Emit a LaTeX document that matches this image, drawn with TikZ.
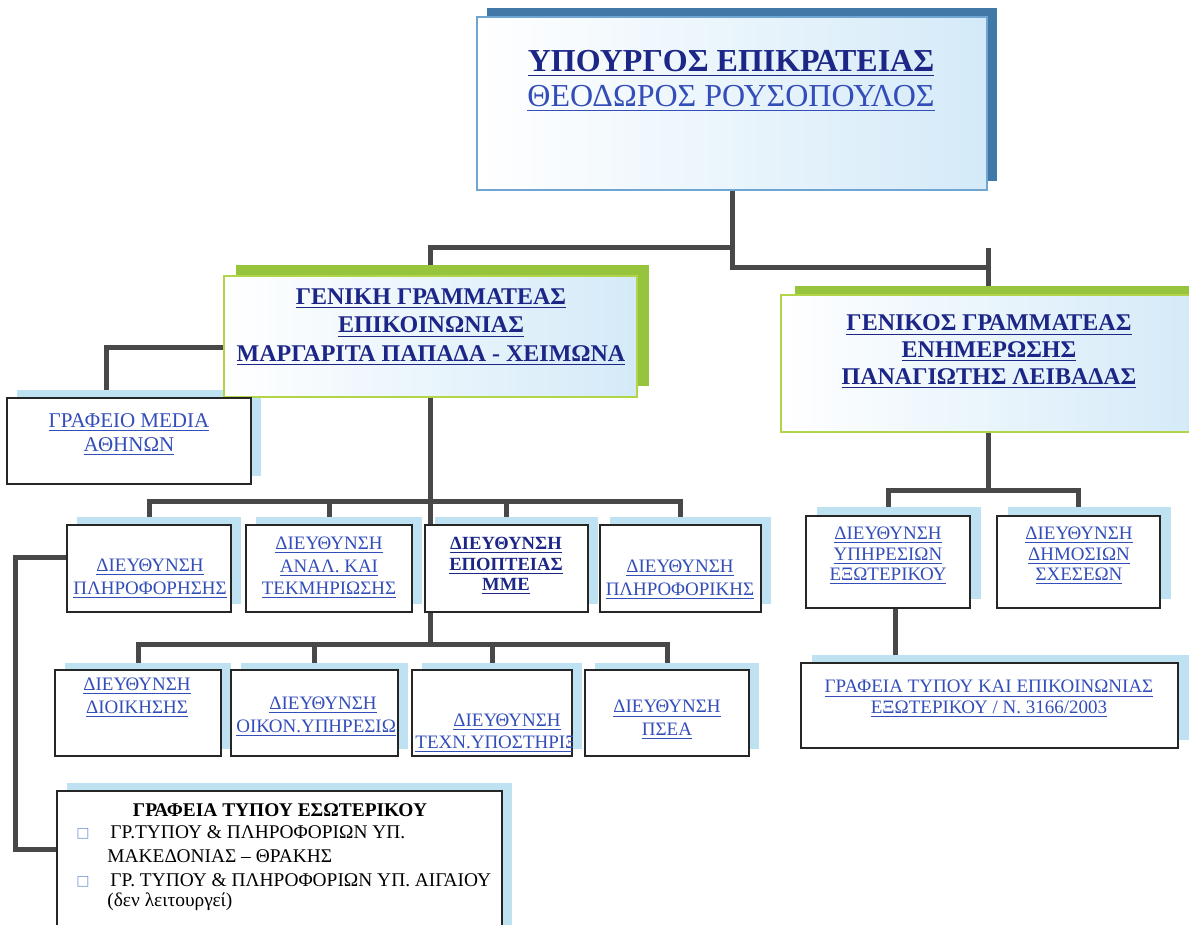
\documentclass[tikz,border=0pt]{standalone}
\usepackage{fontspec}
\setmainfont{Liberation Serif}
\newfontfamily\symfont{DejaVu Sans}
\newcommand{\uln}[1]{\underline{#1}}
\usetikzlibrary{calc}
\definecolor{conncol}{RGB}{72,72,72}
\definecolor{navy}{RGB}{28,38,135}
\definecolor{linkblue}{RGB}{52,78,185}
\definecolor{shadowblue}{RGB}{190,226,242}
\definecolor{steel}{RGB}{64,120,168}
\definecolor{topborder}{RGB}{110,165,210}
\definecolor{greenshadow}{RGB}{150,196,60}
\definecolor{greenborder}{RGB}{178,212,72}
\definecolor{paleblue}{RGB}{212,234,248}
\definecolor{bulletblue}{RGB}{120,150,220}
\pgfdeclarelayer{connlayer}
\pgfdeclarelayer{shadowlayer}
\pgfsetlayers{connlayer,shadowlayer,main}
\tikzset{
  conn/.style={draw=conncol, line width=2.5pt},
  boxshape/.style={rectangle, inner sep=0pt, outer sep=0pt},
  plainbox/.style={boxshape, draw=black!85, line width=1pt, fill=white},
  topbox/.style={boxshape, draw=topborder, line width=0.8pt, left color=white, middle color=white!75!paleblue, right color=paleblue},
  ggbox/.style={boxshape, draw=greenborder, line width=0.8pt, left color=white, middle color=white!75!paleblue, right color=paleblue},
  txt/.style={inner sep=0pt, align=center, text=linkblue},
  boldtxt/.style={inner sep=0pt, align=center, text=navy},
  small/.style={font=\fontsize{9.5}{11.3}\selectfont},
  lefttxt/.style={inner sep=0pt, anchor=base west, text=black, font=\fontsize{9.7}{11}\selectfont},
}
\newcommand{\orgbox}[9]{%
  \begin{pgfonlayer}{shadowlayer}\fill[#7] ({#2+(#8)},{#3+(#9)}) rectangle ({#4+(#8)},{#5+(#9)});\end{pgfonlayer}
  \node[#6, minimum width={(#4-#2)*0.5pt}, minimum height={(#5-#3)*0.5pt}] (#1) at ({(#2+#4)/2},{(#3+#5)/2}) {};}
\begin{document}
\begin{tikzpicture}[x=0.5pt, y=-0.5pt]
\useasboundingbox (0,0) rectangle (1189,925);
\begin{pgfonlayer}{connlayer}
\fill[white] (0,0) rectangle (1189,925);
\end{pgfonlayer}
% boxes
\orgbox{min}{477}{17}{987}{190}{topbox}{steel}{10}{-9}
\orgbox{gl}{224}{276}{637}{397}{ggbox}{greenshadow}{12}{-11}
\orgbox{gr}{781}{295}{1195}{432}{ggbox}{greenshadow}{14}{-9}
\orgbox{media}{7}{398}{251}{484}{plainbox}{shadowblue}{10}{-8}
\orgbox{a1}{67}{525}{231}{612}{plainbox}{shadowblue}{10}{-8}
\orgbox{b1}{246}{525}{412}{612}{plainbox}{shadowblue}{10}{-8}
\orgbox{c1}{425}{525}{588}{612}{plainbox}{shadowblue}{10}{-8}
\orgbox{d1}{600}{525}{761}{612}{plainbox}{shadowblue}{10}{-8}
\orgbox{a2}{55}{670}{221}{756}{plainbox}{shadowblue}{10}{-7}
\orgbox{b2}{231}{670}{398}{756}{plainbox}{shadowblue}{10}{-7}
\orgbox{c2}{412}{670}{572}{756}{plainbox}{shadowblue}{10}{-7}
\orgbox{d2}{585}{670}{749}{756}{plainbox}{shadowblue}{10}{-7}
\orgbox{r1}{806}{516}{970}{608}{plainbox}{shadowblue}{11}{-9}
\orgbox{r2}{997}{516}{1160}{608}{plainbox}{shadowblue}{11}{-9}
\orgbox{rb}{801}{663}{1178}{748}{plainbox}{shadowblue}{11}{-8}
\orgbox{bl}{57}{791}{502}{960}{plainbox}{shadowblue}{10}{-8}
% connectors
\begin{pgfonlayer}{connlayer}
\path (min.south) ++(0,58) coordinate (t1);
\path (min.south) ++(0,78) coordinate (t2);
\draw[conn] (min.south) -- (t2) -| (gr.north);
\draw[conn] (t1) -| (gl.north);
\draw[conn] (t1 -| gr.north) -- (gr.north);
\draw[conn] ([yshift=-5.75pt]gl.west) -| ([xshift=-11.5pt]media.north);
\path (gl.south) ++(0,104) coordinate (h1);
\path (gl.south) ++(0,247) coordinate (h2);
\draw[conn] (gl.south) -- (h2);
\draw[conn] (a1.north) |- (h1) -| (d1.north);
\draw[conn] (b1.north) -- (b1.north |- h1);
\draw[conn] (c1.north) -- (c1.north |- h1);
\draw[conn] (a2.north) |- (h2) -| (d2.north);
\draw[conn] (b2.north) -- (b2.north |- h2);
\draw[conn] (c2.north) -- (c2.north |- h2);
\draw[conn] ([yshift=5.75pt]a1.west) -- ++(-52,0) |- ([yshift=13.25pt]bl.west);
\path (gr.south) ++(0,58) coordinate (h3);
\draw[conn] (gr.south) -- (h3);
\draw[conn] (r1.north) |- (h3) -| (r2.north);
\draw[conn] ([xshift=3.5pt]r1.south) -- ([xshift=3.5pt]r1.south |- rb.north);
\end{pgfonlayer}
% texts
\node[txt, font=\fontsize{16}{17.5}\selectfont] (tmin) at (731,81)
  {{\bfseries\color{navy}\uln{ΥΠΟΥΡΓΟΣ ΕΠΙΚΡΑΤΕΙΑΣ}}\\\uln{ΘΕΟΔΩΡΟΣ ΡΟΥΣΟΠΟΥΛΟΣ}};
\node[boldtxt, font=\bfseries\fontsize{12}{14.25}\selectfont] (tgl) at (431,327)
  {\uln{ΓΕΝΙΚΗ ΓΡΑΜΜΑΤΕΑΣ}\\\uln{ΕΠΙΚΟΙΝΩΝΙΑΣ}\\\uln{ΜΑΡΓΑΡΙΤΑ ΠΑΠΑΔΑ - ΧΕΙΜΩΝΑ}};
\node[boldtxt, font=\bfseries\fontsize{12}{13.5}\selectfont] (tgr) at (989,352)
  {\uln{ΓΕΝΙΚΟΣ ΓΡΑΜΜΑΤΕΑΣ}\\\uln{ΕΝΗΜΕΡΩΣΗΣ}\\\uln{ΠΑΝΑΓΙΩΤΗΣ ΛΕΙΒΑΔΑΣ}};
\node[txt, font=\fontsize{10.5}{12}\selectfont] (tmedia) at (129,435)
  {\uln{ΓΡΑΦΕΙΟ MEDIA}\\\uln{ΑΘΗΝΩΝ}};
\node[txt, small] (ta1) at (150,579) {\uln{ΔΙΕΥΘΥΝΣΗ}\\\uln{ΠΛΗΡΟΦΟΡΗΣΗΣ}};
\node[txt, small] (tb1) at (329,568) {\uln{ΔΙΕΥΘΥΝΣΗ}\\\uln{ΑΝΑΛ. ΚΑΙ}\\\uln{ΤΕΚΜΗΡΙΩΣΗΣ}};
\node[boldtxt, font=\bfseries\fontsize{9.3}{10.2}\selectfont] (tc1) at (506,566) {\uln{ΔΙΕΥΘΥΝΣΗ}\\\uln{ΕΠΟΠΤΕΙΑΣ}\\\uln{ΜΜΕ}};
\node[txt, small] (td1) at (680,580) {\uln{ΔΙΕΥΘΥΝΣΗ}\\\uln{ΠΛΗΡΟΦΟΡΙΚΗΣ}};
\node[txt, small] (ta2) at (137,698) {\uln{ΔΙΕΥΘΥΝΣΗ}\\\uln{ΔΙΟΙΚΗΣΗΣ}};
\node[txt, small] (tb2) at (323,705) {\uln{ΔΙΕΥΘΥΝΣΗ}};
\begin{scope}
\clip (231,670) rectangle (398,756);
\node[txt, small, anchor=west] (tb2b) at (236,728) {\uln{ΟΙΚΟΝ.ΥΠΗΡΕΣΙΩ}};
\end{scope}
\node[txt, small] (tc2) at (507,722) {\uln{ΔΙΕΥΘΥΝΣΗ}};
\begin{scope}
\clip (412,670) rectangle (572,756);
\node[txt, small, anchor=west] (tc2b) at (415,744) {\uln{ΤΕΧΝ.ΥΠΟΣΤΗΡΙΞ}};
\end{scope}
\node[txt, small] (td2) at (667,720) {\uln{ΔΙΕΥΘΥΝΣΗ}\\\uln{ΠΣΕΑ}};
\node[txt, font=\fontsize{9.5}{10.2}\selectfont] (tr1) at (888,556) {\uln{ΔΙΕΥΘΥΝΣΗ}\\\uln{ΥΠΗΡΕΣΙΩΝ}\\\uln{ΕΞΩΤΕΡΙΚΟΥ}};
\node[txt, font=\fontsize{9.5}{10.2}\selectfont] (tr2) at (1079,556) {\uln{ΔΙΕΥΘΥΝΣΗ}\\\uln{ΔΗΜΟΣΙΩΝ}\\\uln{ΣΧΕΣΕΩΝ}};
\node[txt, font=\fontsize{9.5}{10.2}\selectfont] (trb) at (989,699) {\uln{ΓΡΑΦΕΙΑ ΤΥΠΟΥ ΚΑΙ ΕΠΙΚΟΙΝΩΝΙΑΣ}\\\uln{ΕΞΩΤΕΡΙΚΟΥ / Ν. 3166/2003}};
\node[inner sep=0pt, text=black, font=\bfseries\fontsize{9.7}{11}\selectfont] (tbl) at (280,810) {ΓΡΑΦΕΙΑ ΤΥΠΟΥ ΕΣΩΤΕΡΙΚΟΥ};
\node[inner sep=0pt, anchor=base west, text=bulletblue, font=\symfont\fontsize{7}{8}\selectfont] (bu1) at (76,837) {□};
\node[inner sep=0pt, anchor=base west, text=bulletblue, font=\symfont\fontsize{7}{8}\selectfont] (bu2) at (76,885) {□};
\node[lefttxt] (l1) at (110,838) {ΓΡ.ΤΥΠΟΥ \& ΠΛΗΡΟΦΟΡΙΩΝ ΥΠ.};
\node[lefttxt] (l2) at (107,862) {ΜΑΚΕΔΟΝΙΑΣ – ΘΡΑΚΗΣ};
\node[lefttxt] (l3) at (110,886) {ΓΡ. ΤΥΠΟΥ \& ΠΛΗΡΟΦΟΡΙΩΝ ΥΠ. ΑΙΓΑΙΟΥ};
\node[lefttxt] (l4) at (107,906) {(δεν λειτουργεί)};
\end{tikzpicture}
\end{document}
